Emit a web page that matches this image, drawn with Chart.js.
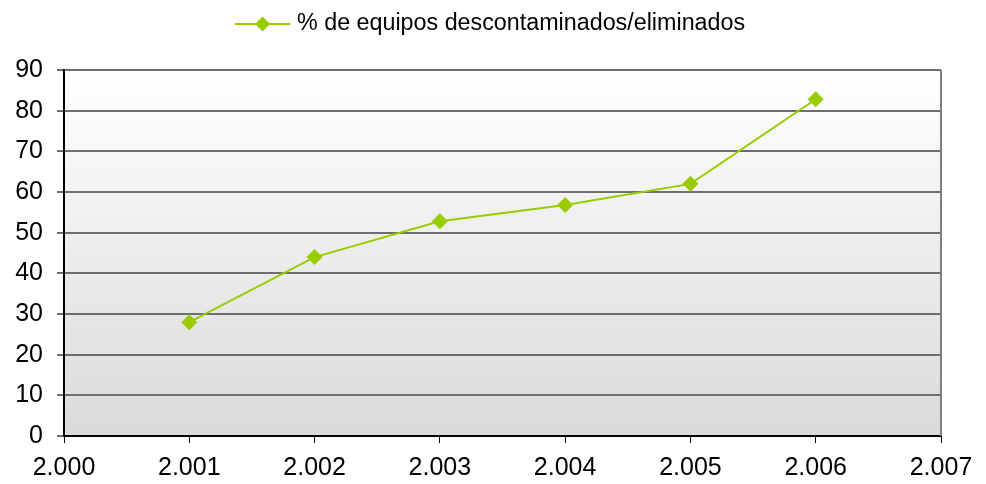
<!DOCTYPE html>
<html><head><meta charset="utf-8">
<script src="https://cdn.jsdelivr.net/npm/chart.js@4.4.1/dist/chart.umd.min.js"></script>
<style>html,body{margin:0;padding:0;background:#fff}#w{width:986px;height:484px}</style>
</head><body><div id="w"><canvas id="c" width="986" height="484"></canvas></div>
<script>
const years = [2001, 2002, 2003, 2004, 2005, 2006];
const values = [28, 44, 52.8, 56.8, 62, 82.8];
const seriesLabel = '% de equipos descontaminados/eliminados';
const xTicks = [2000, 2001, 2002, 2003, 2004, 2005, 2006, 2007];
const yTicks = [0, 10, 20, 30, 40, 50, 60, 70, 80, 90];
const lineColor = '#99CC00';

function fmtYear(v){ return Math.floor(v/1000) + '.' + String(v % 1000).padStart(3,'0'); }

const bgPlugin = {
  id: 'bg',
  beforeDraw(chart){
    const {ctx, chartArea:a} = chart;
    const g = ctx.createLinearGradient(0, a.top, 0, a.bottom);
    g.addColorStop(0, '#ffffff');
    g.addColorStop(1, '#dadada');
    ctx.save(); ctx.fillStyle = g; ctx.fillRect(a.left, a.top, a.right-a.left, a.bottom-a.top); ctx.restore();
  },
  beforeDatasetsDraw(chart){
    const {ctx, chartArea:a} = chart;
    ctx.save(); ctx.strokeStyle = '#808080'; ctx.lineWidth = 2;
    ctx.beginPath(); ctx.moveTo(a.right, a.top); ctx.lineTo(a.right, a.bottom); ctx.stroke();
    ctx.restore();
  }
};
const legendPlugin = {
  id: 'mylegend',
  afterDraw(chart){
    const ctx = chart.ctx;
    ctx.save();
    ctx.font = '23.3px "Liberation Sans", Arial, sans-serif';
    const lineW = 55, gap = 7;
    const x0 = 235;
    const cy = 24;
    ctx.strokeStyle = lineColor; ctx.lineWidth = 2;
    ctx.beginPath(); ctx.moveTo(x0, cy); ctx.lineTo(x0+lineW, cy); ctx.stroke();
    const mx = x0 + lineW/2, r = 7.5;
    ctx.fillStyle = lineColor;
    ctx.beginPath(); ctx.moveTo(mx, cy-r); ctx.lineTo(mx+r, cy); ctx.lineTo(mx, cy+r); ctx.lineTo(mx-r, cy); ctx.closePath(); ctx.fill();
    ctx.fillStyle = '#000'; ctx.textBaseline = 'middle'; ctx.textAlign = 'left';
    ctx.fillText(seriesLabel, x0 + lineW + gap, cy);
    ctx.restore();
  }
};

new Chart(document.getElementById('c'), {
  type: 'line',
  data: {
    datasets: [{
      label: seriesLabel,
      data: years.map((y,i)=>({x:y, y:values[i]})),
      borderColor: lineColor, backgroundColor: lineColor,
      borderWidth: 2, pointStyle: 'rectRot', pointRadius: 8, pointHoverRadius: 8,
      pointBorderWidth: 0, tension: 0
    }]
  },
  options: {
    responsive: false, animation: false, devicePixelRatio: 1,
    layout: { padding: { top: 70, right: 45, left: 0, bottom: 0 } },
    plugins: { legend: { display: false }, tooltip: { enabled: false } },
    scales: {
      x: {
        type: 'linear', min: 2000, max: 2007,
        afterBuildTicks(s){ s.ticks = xTicks.map(v=>({value:v})); },
        afterFit(s){ s.height = 48; },
        ticks: { callback: v => fmtYear(v), color: '#000', font: { family: '"Liberation Sans", Arial, sans-serif', size: 25 }, padding: 10, maxRotation: 0, autoSkip: false },
        grid: { drawOnChartArea: false, drawTicks: true, tickLength: 7, color: '#000', lineWidth: 1 },
        border: { color: '#000', width: 2 }
      },
      y: {
        min: 0, max: 90,
        afterBuildTicks(s){ s.ticks = yTicks.map(v=>({value:v})); },
        afterFit(s){ s.width = 64; },
        ticks: { color: '#000', font: { family: '"Liberation Sans", Arial, sans-serif', size: 25 }, padding: 14 },
        grid: { color: '#6e6e6e', lineWidth: 2, tickLength: 7 },
        border: { color: '#000', width: 2 }
      }
    }
  },
  plugins: [bgPlugin, legendPlugin]
});
</script></body></html>
